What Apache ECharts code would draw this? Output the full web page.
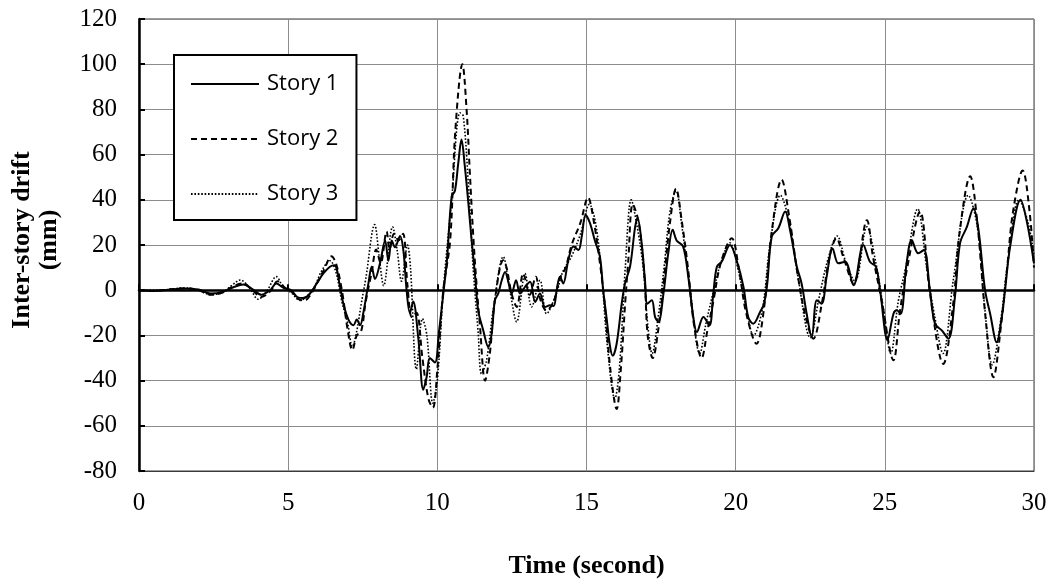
<!DOCTYPE html>
<html>
<head>
<meta charset="utf-8">
<script src="https://cdn.jsdelivr.net/npm/echarts@6/dist/echarts.min.js"></script>
<style>
  html, body { margin: 0; padding: 0; background: #fff; }
  #chart { width: 1053px; height: 582px; }
</style>
</head>
<body>
<div id="chart"></div>
<script>
// Inter-story drift time histories, [time (s), drift (mm)]
const story1 = [
  [0,0],[0.5,-0.3],[1.0,0.2],[1.5,0.8],[2.0,0.3],[2.4,-1.5],[2.8,-0.8],[3.2,1.5],[3.5,2.5],[3.8,0.5],
  [4.1,-2],[4.4,0],[4.6,3],[4.85,1],[5.1,0],[5.3,-3],[5.5,-3.5],[5.7,-2],[5.96,3],[6.18,7.4],
  [6.4,10.4],[6.55,11],[6.74,1.5],[6.85,-6],[7.02,-13],[7.19,-15.5],[7.3,-13],[7.41,-15.5],[7.52,-10],[7.69,3],
  [7.8,10.4],[7.91,5],[8.08,12],[8.25,22],[8.36,13],[8.47,22],[8.58,19],[8.75,24],[8.86,17.8],[8.97,0],
  [9.08,-10],[9.19,-5],[9.36,-21],[9.53,-44],[9.64,-38.5],[9.75,-30],[9.92,-32],[10.05,-19],[10.2,-1.5],[10.32,13],
  [10.48,41.5],[10.59,44],[10.7,56],[10.81,66.7],[10.92,55],[11.04,38.5],[11.15,22],[11.26,7.4],[11.37,-8.9],[11.54,-17.8],
  [11.71,-25.2],[11.82,-19.3],[11.93,-4.4],[12.04,-1.5],[12.16,4.4],[12.27,8.1],[12.38,3.7],[12.49,-1.5],[12.64,4.4],[12.77,-1.5],
  [12.94,1.5],[13.11,3.7],[13.28,-5.2],[13.44,-1.5],[13.61,-7.4],[13.78,-6.7],[13.9,-7],[14.0,0],[14.11,6],[14.22,3],
  [14.39,13.3],[14.56,19.3],[14.73,17.8],[14.84,23.7],[14.97,33.3],[15.12,29.6],[15.28,22],[15.45,14.8],[15.56,0],[15.67,-11.9],
  [15.79,-25],[15.88,-29],[16.01,-23.7],[16.18,-6],[16.29,3],[16.46,10.4],[16.63,28],[16.71,31.9],[16.85,20.7],[16.96,4.4],
  [17.04,-6],[17.19,-4.4],[17.3,-11.9],[17.41,-14],[17.58,-1.5],[17.74,16.3],[17.89,26.7],[18.02,22],[18.24,19.3],[18.41,6],
  [18.58,-11.9],[18.7,-18.5],[18.92,-11.9],[19.12,-15.6],[19.25,-1.5],[19.37,10.4],[19.53,12.6],[19.81,20],[20.03,13.3],[20.26,1.5],
  [20.42,-11.9],[20.59,-14.8],[20.82,-9.6],[20.95,-6],[21.06,3],[21.21,23.7],[21.43,27.4],[21.66,34.8],[21.82,26.7],[22.05,10.4],
  [22.21,3],[22.38,-10.4],[22.55,-20.7],[22.72,-4.4],[22.88,-6],[23.05,6],[23.25,18.5],[23.44,11.9],[23.67,12.6],[23.95,2.2],
  [24.28,20],[24.5,12.6],[24.7,10.4],[24.84,0],[25.09,-22],[25.29,-10.4],[25.4,-8.9],[25.53,-10.4],[25.73,11.9],[25.9,22.2],
  [26.12,16.3],[26.31,17.8],[26.51,0],[26.68,-14.8],[26.91,-17.8],[27.13,-21.5],[27.35,-3],[27.52,20.7],[27.75,28],[27.97,36.3],
  [28.14,26.7],[28.36,0],[28.53,-10.4],[28.75,-23],[28.92,-11.9],[29.03,0],[29.2,19.3],[29.55,40],[29.75,31],[30,11.9]
];

const story2 = [
  [0,0],[0.5,-0.3],[1.0,0.3],[1.5,0.8],[2.0,0],[2.4,-2],[2.8,-1],[3.2,2],[3.5,3],[3.8,0],
  [4.1,-3],[4.4,-0.5],[4.65,4],[4.9,1],[5.1,-0.5],[5.35,-4],[5.55,-4.5],[5.8,-1],[6.0,4],[6.2,9],
  [6.45,15],[6.6,12],[6.8,0],[7.0,-18],[7.15,-26.5],[7.3,-20],[7.45,-18],[7.6,-5],[7.8,8],[7.95,18],
  [8.1,12],[8.3,26],[8.4,18],[8.55,25],[8.7,22],[8.85,25],[9.0,2],[9.15,-12],[9.3,-10],[9.5,-30],
  [9.7,-48],[9.85,-52],[10.0,-35],[10.2,0],[10.43,22],[10.6,70],[10.84,100],[10.98,80],[11.09,52],[11.2,25],
  [11.32,1.5],[11.43,-16],[11.6,-40],[11.76,-28],[11.93,-4.4],[12.21,13.3],[12.32,10],[12.49,-1.5],[12.66,-7.4],[12.88,7.4],
  [13.1,-2],[13.3,6],[13.45,-4],[13.66,-9],[13.9,-5],[14.1,5],[14.3,10],[14.5,20],[14.8,30],[15.05,41],
  [15.25,30],[15.45,12],[15.6,-5],[15.8,-35],[16.01,-52.6],[16.15,-35],[16.3,-5],[16.4,13],[16.55,38],[16.75,30],
  [16.95,5],[17.05,-20],[17.22,-30],[17.4,-18],[17.6,5],[17.8,30],[18.0,45],[18.2,30],[18.4,10],[18.6,-15],
  [18.86,-30],[19.05,-18],[19.25,-5],[19.5,12],[19.87,23],[20.1,10],[20.35,-10],[20.7,-23.7],[20.95,-8],[21.2,25],
  [21.54,48.9],[21.8,32],[22.1,5],[22.35,-12],[22.6,-21.5],[22.9,-5],[23.15,15],[23.38,23],[23.6,15],[23.95,3],
  [24.4,31],[24.6,15],[24.9,-5],[25.29,-31],[25.5,-10],[25.75,10],[26.18,34.8],[26.5,0],[26.96,-32.6],[27.3,-5],
  [27.5,25],[27.86,50.4],[28.1,30],[28.36,-10],[28.64,-38.5],[28.9,-15],[29.1,10],[29.3,35],[29.62,53],[29.85,35],
  [30,10]
];

const story3 = [
  [0,0],[0.5,0],[1.0,0.3],[1.5,1],[2.0,0],[2.4,-2],[2.8,-1],[3.1,2],[3.4,4.5],[3.7,1],
  [4.0,-4],[4.3,0],[4.6,6],[4.85,1],[5.1,-1],[5.4,-4.5],[5.6,-3],[5.9,2],[6.1,8],[6.4,13],
  [6.6,8],[6.8,-5],[7.0,-15],[7.15,-25],[7.3,-18],[7.45,-6],[7.6,5],[7.9,29],[8.05,15],[8.2,2],
  [8.5,28],[8.65,18],[8.8,4],[9.0,20],[9.1,10],[9.3,-35],[9.5,-12.6],[9.65,-20],[9.85,-50],[10.0,-40],
  [10.2,0],[10.48,40],[10.76,78.5],[10.87,77],[11.04,47],[11.2,10],[11.37,-19],[11.48,-37],[11.65,-31],[11.87,-9],
  [12.21,14.8],[12.43,0],[12.66,-14],[12.94,7.4],[13.16,-7.4],[13.44,4.4],[13.66,-10.4],[13.99,-1.5],[14.2,8],[14.5,15],
  [14.8,25],[15.1,38],[15.3,30],[15.5,8],[15.7,-25],[15.95,-48],[16.1,-35],[16.3,10],[16.5,40],[16.7,28],
  [16.9,10],[17.05,-15],[17.2,-28],[17.4,-12],[17.6,10],[17.8,35],[18.0,44],[18.2,28],[18.45,3],[18.8,-28],
  [19.0,-15],[19.3,2],[19.5,12],[19.8,21],[20.1,8],[20.35,-8],[20.6,-20],[20.9,-8],[21.15,20],[21.5,42],
  [21.8,30],[22.1,5],[22.5,-21],[22.8,-3],[23.1,14],[23.4,24],[23.7,12],[24.0,4],[24.4,28],[24.7,12],
  [24.95,-8],[25.2,-28],[25.45,-5],[25.7,10],[26.1,36],[26.4,10],[26.65,-10],[26.95,-28],[27.3,5],[27.8,42],
  [28.1,28],[28.35,-8],[28.6,-33],[28.9,-12],[29.1,10],[29.5,40],[29.8,30],[30,15]
];

const seriesNames = ['Story 1', 'Story 2', 'Story 3'];
const timeTicks = { min: 0, max: 30, step: 5 };
const driftTicks = { min: -80, max: 120, step: 20 };

const serif = '"Liberation Serif", "Times New Roman", serif';
const sans = '"Open Sans", "Noto Sans", sans-serif';

const chart = echarts.init(document.getElementById('chart'), null, { renderer: 'canvas' });

chart.setOption({
  animation: false,
  backgroundColor: '#ffffff',
  grid: {
    left: 139, right: 19, top: 19, bottom: 111,
    containLabel: false,
    outerBoundsMode: 'none',
    show: true, borderColor: '#3a3a3a', borderWidth: 1, backgroundColor: 'transparent'
  },
  legend: {
    orient: 'vertical',
    left: 174, top: 55,
    padding: [18, 18, 15, 16],
    itemGap: 33,
    itemWidth: 68,
    itemHeight: 20,
    borderColor: '#000', borderWidth: 2,
    backgroundColor: '#fff',
    // line samples only, no marker dot
    itemStyle: { opacity: 0 },
    textStyle: { fontFamily: sans, fontSize: 22, color: '#000', padding: [0, 0, 0, 3] },
    data: seriesNames
  },
  xAxis: [
    {
      type: 'value',
      min: timeTicks.min, max: timeTicks.max, interval: timeTicks.step,
      position: 'bottom',
      axisLine: { onZero: false, show: true, lineStyle: { color: '#3a3a3a', width: 1 } },
      axisTick: { show: false },
      axisLabel: { fontFamily: serif, fontSize: 25, color: '#000', margin: 20 },
      splitLine: { show: true, lineStyle: { color: '#8c8c8c', width: 1 } },
      name: 'Time (second)',
      nameLocation: 'middle',
      nameGap: 82,
      nameTextStyle: { fontFamily: serif, fontSize: 26, fontWeight: 'bold', color: '#000' }
    },
    {
      // zero line carrying the time ticks
      type: 'value',
      min: timeTicks.min, max: timeTicks.max, interval: timeTicks.step,
      position: 'top',
      axisLine: { onZero: true, show: true, lineStyle: { color: '#000', width: 2.5 } },
      axisTick: { show: true, inside: false, length: 6, lineStyle: { color: '#000', width: 2 } },
      axisLabel: { show: false },
      splitLine: { show: false }
    }
  ],
  yAxis: {
    type: 'value',
    min: driftTicks.min, max: driftTicks.max, interval: driftTicks.step,
    axisLine: { show: true, onZero: false, lineStyle: { color: '#000', width: 2.5 } },
    axisTick: { show: true, inside: true, length: 6, lineStyle: { color: '#000', width: 2 } },
    axisLabel: { fontFamily: serif, fontSize: 25, color: '#000', margin: 22 },
    splitLine: { show: true, lineStyle: { color: '#8c8c8c', width: 1 } }
  },
  graphic: [
    {
      type: 'text', x: 22, y: 240, rotation: Math.PI / 2,
      style: { text: 'Inter-story drift', fontFamily: serif, fontSize: 26, fontWeight: 'bold',
               fill: '#000', align: 'center', verticalAlign: 'middle' }
    },
    {
      type: 'text', x: 49, y: 240, rotation: Math.PI / 2,
      style: { text: '(mm)', fontFamily: serif, fontSize: 26, fontWeight: 'bold',
               fill: '#000', align: 'center', verticalAlign: 'middle' }
    }
  ],
  series: [
    {
      name: seriesNames[2], type: 'line', data: story3, showSymbol: false, symbol: 'none',
      smooth: 0.35, z: 2,
      lineStyle: { color: '#000', width: 1.6, type: [1.6, 1.8] },
      itemStyle: { color: '#000' }
    },
    {
      name: seriesNames[1], type: 'line', data: story2, showSymbol: false, symbol: 'none',
      smooth: 0.35, z: 3,
      lineStyle: { color: '#000', width: 2, type: [6, 4] },
      itemStyle: { color: '#000' }
    },
    {
      name: seriesNames[0], type: 'line', data: story1, showSymbol: false, symbol: 'none',
      smooth: 0.35, z: 4,
      lineStyle: { color: '#000', width: 2, type: 'solid' },
      itemStyle: { color: '#000' }
    }
  ]
});
</script>
</body>
</html>
